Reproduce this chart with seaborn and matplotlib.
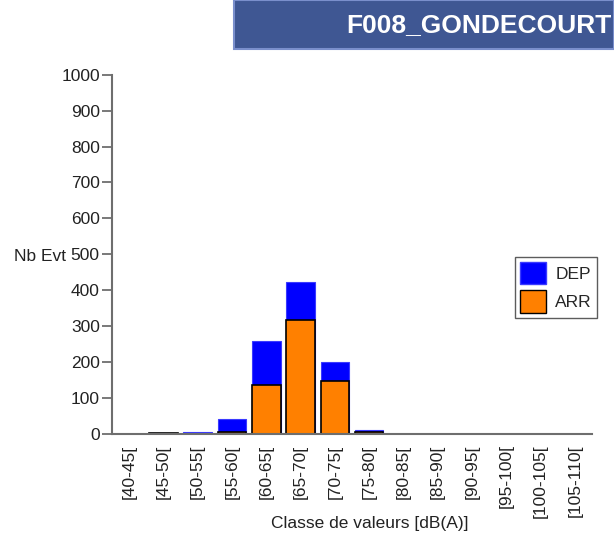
import pandas as pd
import numpy as np
import seaborn as sns
from matplotlib import pyplot as plt
from matplotlib.patches import Patch, Rectangle

classes = ['[40-45[', '[45-50[', '[50-55[', '[55-60[', '[60-65[', '[65-70[', '[70-75[',
           '[75-80[', '[80-85[', '[85-90[', '[90-95[', '[95-100[', '[100-105[', '[105-110[']
arr = [0, 2, 0, 5, 137, 317, 147, 6, 0, 0, 0, 0, 0, 0]
dep = [0, 0, 5, 37, 123, 105, 53, 5, 0, 0, 0, 0, 0, 0]

df = pd.DataFrame({'classe': classes, 'ARR': arr, 'DEP': dep})
df['total'] = df['ARR'] + df['DEP']

sns.set_style('white')
plt.rcParams['font.family'] = ['Liberation Sans', 'DejaVu Sans']
plt.rcParams['font.size'] = 12.5

fig = plt.figure(figsize=(6.14, 5.37), dpi=100)
ax = fig.add_axes([112 / 614, 1 - 434 / 537, 480 / 614, 359.3 / 537])

# stacked: total in blue behind, ARR in orange on top
sns.barplot(data=df, x='classe', y='total', order=classes, color='#0000ff', saturation=1,
            width=0.83, edgecolor='#3a3aff', linewidth=0.8, ax=ax)
sns.barplot(data=df, x='classe', y='ARR', order=classes, color='#ff8000', saturation=1,
            width=0.83, edgecolor='black', linewidth=1.2, ax=ax)

ax.set_xlim(-0.5, len(classes) - 0.5)
ax.set_ylim(0, 1000)
ax.set_yticks(np.arange(0, 1001, 100))

for s in ['top', 'right']:
    ax.spines[s].set_visible(False)
for s in ['left', 'bottom']:
    ax.spines[s].set_color('#6e6e6e')
    ax.spines[s].set_linewidth(1.5)

ax.set_xticks(np.arange(len(classes)))
ax.set_xticklabels(classes, rotation=90, va='top', ha='center')
ax.set_xticks(np.arange(len(classes) + 1) - 0.5, minor=True)
ax.tick_params(axis='x', which='major', length=0, pad=7.5, colors='#222222')
ax.tick_params(axis='x', which='minor', length=6.5, width=1.3, color='#6e6e6e', direction='out')
ax.tick_params(axis='y', length=7, width=1.3, color='#6e6e6e', pad=1.8, labelcolor='#222222',
               direction='out', left=True)

ax.set_ylabel('Nb Evt', rotation=0, ha='right', va='center', color='#222222')
ax.yaxis.set_label_coords(-0.096, 0.495)
ax.set_xlabel('Classe de valeurs [dB(A)]', color='#222222')
ax.xaxis.label.set_va('center')
ax.xaxis.set_label_coords(0.5375, -0.248)

handles = [Patch(facecolor='#0000ff', edgecolor='#3a3aff', label='DEP'),
           Patch(facecolor='#ff8000', edgecolor='black', label='ARR')]
leg = ax.legend(handles=handles, loc='upper left', bbox_to_anchor=(0.84, 0.493),
                borderaxespad=0, fancybox=False, shadow=False, handlelength=1.45,
                handleheight=1.6, handletextpad=0.55, borderpad=0.3, labelspacing=0.35,
                fontsize=12.5)
leg.get_frame().set_edgecolor('#333333')
leg.get_frame().set_linewidth(1.0)

# title banner
fig.patches.append(Rectangle((234 / 614, 1 - 49 / 537), 1 - 234 / 614, 49 / 537,
                             transform=fig.transFigure, facecolor='#3f5793',
                             edgecolor='#7a8fcc', linewidth=1.5))
fig.text(611 / 614, 1 - 31.7 / 537, 'F008_GONDECOURT', color='white', fontsize=19,
         fontweight='bold', ha='right', va='baseline')

fig.savefig('out.png', dpi=100)
